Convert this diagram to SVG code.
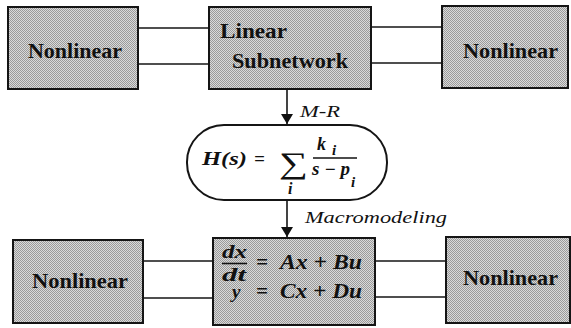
<svg xmlns="http://www.w3.org/2000/svg" width="571" height="328" viewBox="0 0 571 328" font-family="Liberation Serif, Times New Roman, Times, serif">
<defs>
<pattern id="ht" width="2" height="2" patternUnits="userSpaceOnUse">
<rect width="2" height="2" fill="#dadada"/>
<rect x="0" y="0" width="1" height="1" fill="#9a9a9a"/>
<rect x="1" y="1" width="1" height="1" fill="#9a9a9a"/>
</pattern>
<marker id="arr" viewBox="0 0 10 12" refX="10" refY="6" markerWidth="10" markerHeight="12" markerUnits="userSpaceOnUse" orient="auto">
<path d="M0,0 L10,6 L0,12 Z" fill="#111"/>
</marker>
</defs>
<style>
.box{fill:url(#ht);stroke:#151515;stroke-width:2}
.lbl{font-weight:bold;font-size:21px;fill:#111}
.mth{font-weight:bold;font-style:italic;fill:#111}
.it{font-style:italic;font-size:17px;fill:#111}
.ln{stroke:#151515;stroke-width:1.6;fill:none}
</style>
<g id="nl-top-left">
<rect class="box" x="8" y="7" width="130" height="82"/>
<text class="lbl" x="28" y="58" textLength="94" lengthAdjust="spacingAndGlyphs">Nonlinear</text>
</g>
<g id="linear-subnetwork">
<rect class="box" x="209" y="7" width="162" height="82"/>
<text class="lbl" x="220" y="38" textLength="67" lengthAdjust="spacingAndGlyphs">Linear</text>
<text class="lbl" x="232" y="68" textLength="116" lengthAdjust="spacingAndGlyphs">Subnetwork</text>
</g>
<g id="nl-top-right">
<rect class="box" x="442" y="6" width="126" height="82"/>
<text class="lbl" x="463" y="58" textLength="95" lengthAdjust="spacingAndGlyphs">Nonlinear</text>
</g>
<g id="pole-residue">
<rect x="187" y="125" width="200" height="75" rx="37" ry="37" fill="#fff" stroke="#151515" stroke-width="2"/>
<text class="mth" x="202" y="165" font-size="19" textLength="45" lengthAdjust="spacingAndGlyphs">H(s)</text>
<text class="mth" x="254" y="165" font-size="19">=</text>
<text x="279" y="173" font-size="30" fill="#111" textLength="29" lengthAdjust="spacingAndGlyphs">∑</text>
<text class="mth" x="288" y="194" font-size="16">i</text>
<text class="mth" x="317" y="150" font-size="18">k</text>
<text class="mth" x="332" y="155" font-size="15">i</text>
<line x1="313" y1="158" x2="357" y2="158" stroke="#111" stroke-width="1.6"/>
<text class="mth" x="312" y="175" font-size="18" textLength="38" lengthAdjust="spacingAndGlyphs">s − p</text>
<text class="mth" x="351" y="187" font-size="15">i</text>
</g>
<g id="state-space">
<rect class="box" x="213" y="238" width="162" height="87"/>
<text class="mth" x="222" y="258" font-size="19" textLength="25" lengthAdjust="spacingAndGlyphs">dx</text>
<line x1="222" y1="263.5" x2="247" y2="263.5" stroke="#111" stroke-width="1.6"/>
<text class="mth" x="222" y="281" font-size="18" textLength="24" lengthAdjust="spacingAndGlyphs">dt</text>
<text class="mth" x="256" y="269" font-size="21">=</text>
<text class="mth" x="280" y="269" font-size="21" textLength="82" lengthAdjust="spacingAndGlyphs">Ax + Bu</text>
<text class="mth" x="232" y="298" font-size="19">y</text>
<text class="mth" x="256" y="298" font-size="21">=</text>
<text class="mth" x="280" y="298" font-size="21" textLength="82" lengthAdjust="spacingAndGlyphs">Cx + Du</text>
</g>
<g id="nl-bottom-left">
<rect class="box" x="13" y="240" width="130" height="83"/>
<text class="lbl" x="32" y="288" textLength="96" lengthAdjust="spacingAndGlyphs">Nonlinear</text>
</g>
<g id="nl-bottom-right">
<rect class="box" x="446" y="237" width="124" height="86"/>
<text class="lbl" x="463" y="285" textLength="95" lengthAdjust="spacingAndGlyphs">Nonlinear</text>
</g>
<g id="connectors">
<line class="ln" x1="138" y1="28" x2="209" y2="28"/>
<line class="ln" x1="138" y1="64" x2="209" y2="64"/>
<line class="ln" x1="371" y1="27" x2="442" y2="27"/>
<line class="ln" x1="371" y1="63" x2="442" y2="63"/>
<line class="ln" x1="143" y1="261" x2="213" y2="261"/>
<line class="ln" x1="143" y1="298" x2="213" y2="298"/>
<line class="ln" x1="375" y1="261" x2="446" y2="261"/>
<line class="ln" x1="375" y1="297" x2="446" y2="297"/>
<line class="ln" x1="287" y1="89" x2="287" y2="124" marker-end="url(#arr)"/>
<line class="ln" x1="287" y1="200" x2="287" y2="237" marker-end="url(#arr)"/>
<text class="it" x="300" y="117" textLength="40" lengthAdjust="spacingAndGlyphs">M-R</text>
<text class="it" x="305" y="223" textLength="142" lengthAdjust="spacingAndGlyphs">Macromodeling</text>
</g>
</svg>
